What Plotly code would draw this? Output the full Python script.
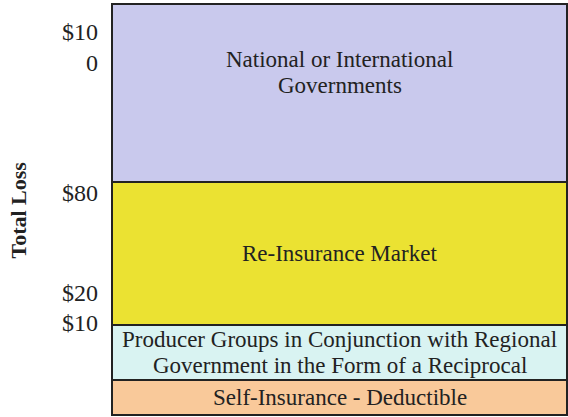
import plotly.graph_objects as go

# Schematic layers (bottom to top), heights in schematic chart units
layers = ["Self-Insurance - Deductible",
          "Producer Groups in Conjunction with Regional<br>Government in the Form of a Reciprocal",
          "Re-Insurance Market",
          "National or International<br>Governments"]
layer_heights = [35, 55, 143, 178]
layer_colors = ["#f9c99a", "#d9f3f2", "#ebe232", "#c9c9ed"]

tick_vals = [92, 122, 222, 367.5]
tick_labels = ["$10", "$20", "$80", "$10<br>0"]

FONT = "Liberation Serif, Times New Roman, serif"
LINE_GAP = 26
fig = go.Figure()
bases = []
b = 0
for name, h, c in zip(layers, layer_heights, layer_colors):
    bases.append(b)
    fig.add_trace(go.Bar(x=[0], y=[h], base=[b], width=1, name=name,
                         marker=dict(color=c, line=dict(color="#222222", width=2)),
                         hoverinfo="skip", showlegend=False))
    b += h

annotations = []
for i, (name, h) in enumerate(zip(layers, layer_heights)):
    if i == len(layers) - 1:
        ycenter = bases[i] + h - 68
    else:
        ycenter = bases[i] + h / 2
    lines = name.split("<br>")
    n = len(lines)
    for j, line in enumerate(lines):
        ypos = ycenter + ((n - 1) / 2 - j) * LINE_GAP
        annotations.append(dict(x=0, y=ypos, xref="x", yref="y", text=line, showarrow=False,
                                font=dict(family=FONT, size=23, color="#222222"),
                                xanchor="center", yanchor="middle"))
annotations.append(dict(x=-0.1987, y=0.5, xref="paper", yref="paper", text="<b>Total Loss</b>",
                        textangle=-90, showarrow=False,
                        font=dict(family=FONT, size=22, color="#222222"),
                        xanchor="center", yanchor="middle"))

fig.update_layout(
    width=568, height=417,
    margin=dict(l=110, r=0, t=2, b=0),
    paper_bgcolor="white", plot_bgcolor="white",
    barmode="overlay", bargap=0,
    annotations=annotations,
    xaxis=dict(range=[-0.5044, 0.5022], visible=False, fixedrange=True),
    yaxis=dict(range=[-2, 413], tickvals=tick_vals, ticktext=tick_labels,
               showgrid=False, zeroline=False, showline=False, ticks="",
               ticklabelstandoff=11, fixedrange=True,
               tickfont=dict(family=FONT, size=24, color="#222222")),
)
fig.write_html("out.html", config={"displayModeBar": False},
               post_script="document.body.style.margin='0';document.body.style.overflow='hidden';")
